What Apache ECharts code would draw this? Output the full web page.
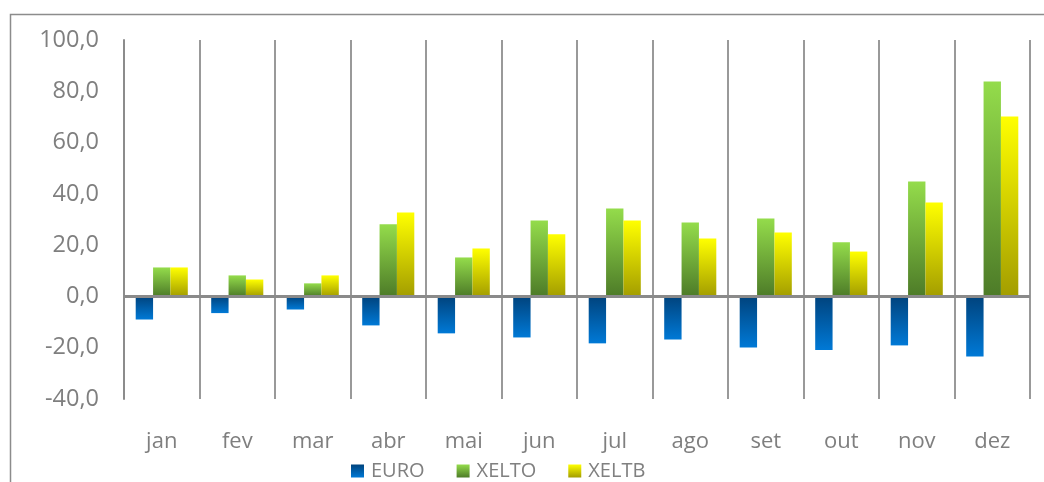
<!DOCTYPE html>
<html>
<head>
<meta charset="utf-8">
<script src="https://cdn.jsdelivr.net/npm/echarts@6/dist/echarts.min.js"></script>
<style>
html,body{margin:0;padding:0;background:#fff;}
#chart{width:1044px;height:482px;}
</style>
</head>
<body>
<div id="chart"></div>
<script>
const categories = ['jan','fev','mar','abr','mai','jun','jul','ago','set','out','nov','dez'];
const euro  = [-9.0, -6.5, -5.1, -11.3, -14.4, -16.0, -18.3, -16.8, -19.9, -20.9, -19.1, -23.4];
const xelto = [11.3, 8.2, 5.1, 28.1, 15.2, 29.6, 34.3, 28.8, 30.4, 21.1, 44.8, 83.8];
const xeltb = [11.3, 6.6, 8.2, 32.7, 18.7, 24.2, 29.6, 22.6, 24.9, 17.5, 36.6, 70.2];
const yTicks = { min: -40, max: 100, interval: 20 };

function grad(top, bottom) {
  return new echarts.graphic.LinearGradient(0, 0, 0, 1, [
    { offset: 0, color: top }, { offset: 1, color: bottom }
  ]);
}
const FONT = 'Open Sans';
const chart = echarts.init(document.getElementById('chart'), null, { renderer: 'canvas' });
chart.setOption({
  animation: false,
  backgroundColor: '#fff',
  graphic: [{
    type: 'rect', left: 8, top: 12, silent: true, z: -10,
    shape: { width: 1100, height: 520 },
    style: { fill: 'none', stroke: '#8c8c8c', lineWidth: 1.5 }
  }],
  grid: { left: 124, right: 14, top: 40, bottom: 83 },
  legend: {
    left: 346, top: 456,
    itemWidth: 13, itemHeight: 13, itemGap: 32,
    icon: 'rect',
    textStyle: { fontFamily: FONT, fontSize: 20, color: '#808080', padding: [0, 0, 0, 2] },
    data: ['EURO', 'XELTO', 'XELTB']
  },
  xAxis: {
    type: 'category', data: categories,
    axisLine: { show: false, onZero: false },
    axisTick: { show: false },
    splitLine: { show: true, lineStyle: { color: '#999', width: 2 } },
    axisLabel: { fontFamily: FONT, fontSize: 22, color: '#7f7f7f', margin: 32 }
  },
  yAxis: {
    type: 'value', min: yTicks.min, max: yTicks.max, interval: yTicks.interval,
    axisLine: { show: true, lineStyle: { color: '#8c8c8c', width: 2 } },
    axisTick: { show: false },
    splitLine: { show: false },
    axisLabel: {
      fontFamily: FONT, fontSize: 23.5, color: '#7f7f7f', margin: 25,
      formatter: v => v.toFixed(1).replace('.', ',')
    }
  },
  series: [
    {
      name: 'EURO', type: 'bar', data: euro,
      barGap: '0%', barCategoryGap: '31%',
      itemStyle: { color: grad('#00437d', '#0079d6') },
      markLine: {
        silent: true, symbol: ['none', 'none'],
        label: { show: false },
        lineStyle: { color: '#8a8a8a', width: 3, type: 'solid' },
        data: [{ yAxis: 0 }]
      }
    },
    {
      name: 'XELTO', type: 'bar', data: xelto,
      barGap: '0%', barCategoryGap: '31%',
      itemStyle: { color: grad('#94dc4b', '#4d7b28') }
    },
    {
      name: 'XELTB', type: 'bar', data: xeltb,
      barGap: '0%', barCategoryGap: '31%',
      itemStyle: { color: grad('#ffff00', '#a39d00') }
    }
  ]
});
</script>
</body>
</html>
